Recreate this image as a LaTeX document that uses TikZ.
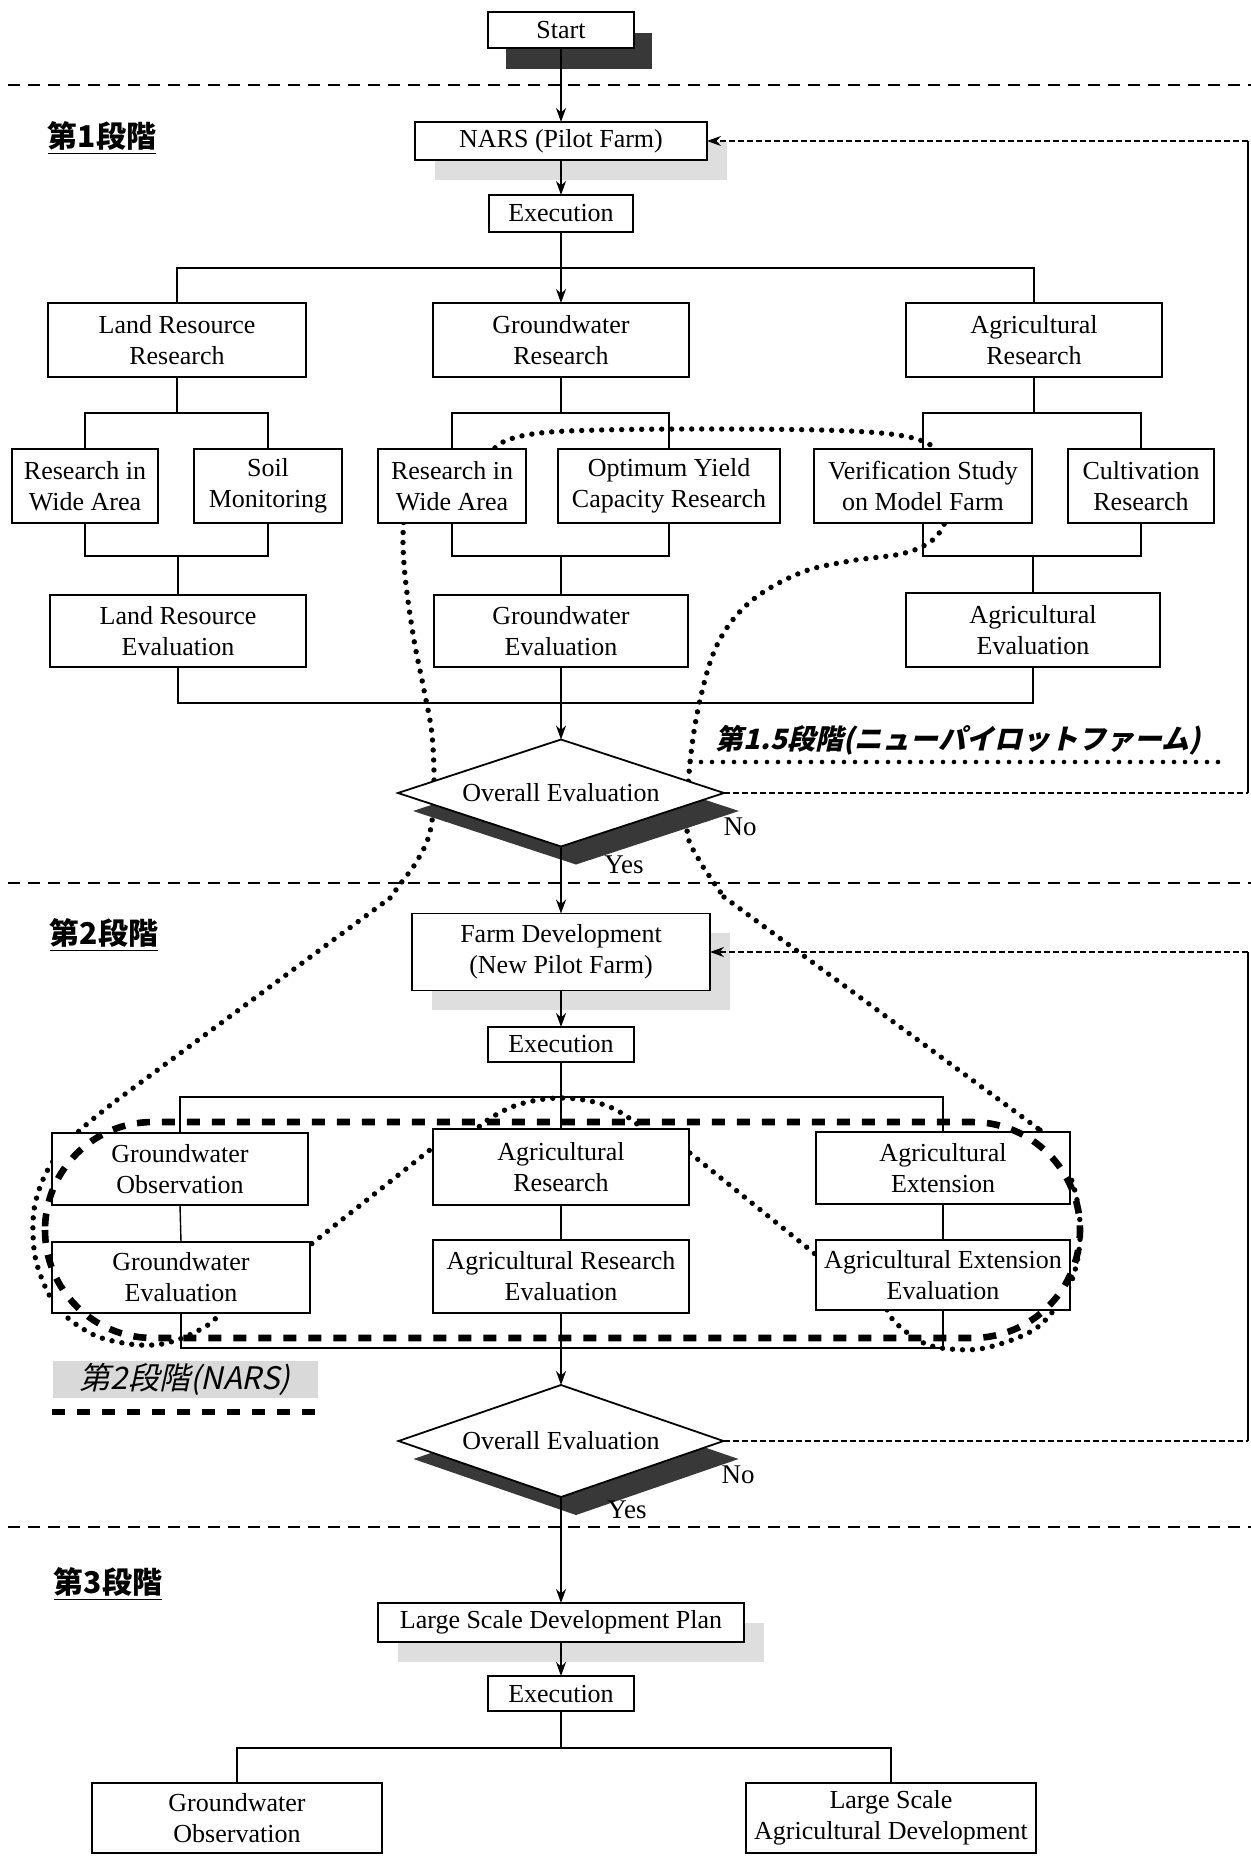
\documentclass[tikz,border=0pt]{standalone}
\usepackage{fontspec}
\setmainfont{Liberation Serif}
\newfontfamily\cjk{Noto Sans CJK JP}
\newfontfamily\cjkit{Noto Sans CJK JP}[FakeSlant=0.22]
\usetikzlibrary{shapes.geometric,arrows.meta}
\begin{document}
\begin{tikzpicture}[x=0.5pt,y=-0.5pt,
  box/.style={draw, line width=0.9pt, fill=white, inner sep=0pt, outer sep=0pt, align=center, font=\fontsize{13}{15.5}\selectfont},
  lshadow/.style={fill=black!13, draw=none, inner sep=0pt, outer sep=0pt},
  dshadow/.style={fill=black!78, draw=none, inner sep=0pt, outer sep=0pt},
  conn/.style={line width=0.7pt},
  arr/.style={line width=0.7pt, -{Stealth[length=7pt,width=5pt]}},
  stage/.style={line width=0.9pt, dash pattern=on 6pt off 4pt},
  dotloop/.style={line width=2.7pt, line cap=round, dash pattern=on 0pt off 5pt},
  dotul/.style={line width=2.3pt, line cap=round, dash pattern=on 0pt off 5.5pt},
  narsdash/.style={line width=3.3pt, dash pattern=on 6.5pt off 6pt},
  fb/.style={line width=0.6pt, dash pattern=on 3pt off 1.5pt},
  fbv/.style={line width=0.7pt},
  decision/.style={diamond, shape aspect=3, draw, line width=0.9pt, fill=white, inner sep=0pt, outer sep=0pt, font=\fontsize{13}{15.5}\selectfont},
  lbl/.style={inner sep=0pt, font=\fontsize{13.5}{16}\selectfont},
  stagelbl/.style={inner sep=0pt, font={\fontsize{15}{18}\selectfont\cjk\bfseries}},
]
\useasboundingbox (0,0) rectangle (1251,1856);
\fill[white] (0,0) rectangle (1251,1856);

% stage separators
\coordinate (s1l) at (8,85);   \coordinate (s1r) at (1251,85);
\coordinate (s2l) at (8,883);  \coordinate (s2r) at (1251,883);
\coordinate (s3l) at (8,1527); \coordinate (s3r) at (1251,1527);
\draw[stage] (s1l) -- (s1r);
\draw[stage] (s2l) -- (s2r);
\draw[stage] (s3l) -- (s3r);

% big dotted outline (stage 1.5)
\draw[dotloop] plot[smooth,tension=0.6] coordinates {(488,455) (505,441) (540,433) (600,430) (700,429) (820,430) (890,434) (925,442) (942,455)};
\draw[dotloop] plot[smooth,tension=0.6] coordinates {(948,515) (935,538) (905,553) (850,561) (800,573) (750,602) (718,643) (700,700) (690,763) (687,830) (698,858) (712,880) (724,897)};
\draw[dotloop] (724,897) -- (1040,1130);
\draw[dotloop] plot[smooth,tension=0.6] coordinates {(1040,1130) (1064,1162) (1077,1200) (1080,1240) (1072,1280) (1054,1310) (1030,1332) (985,1348) (950,1349) (926,1344) (905,1331) (890,1316) (884,1300)};
\draw[dotloop] (830,1266) -- (680,1145);
\draw[dotloop] plot[smooth,tension=0.6] coordinates {(648,1140) (637,1124) (605,1105) (561,1098) (517,1105) (482,1124) (472,1140)};
\draw[dotloop] (445,1138) -- (300,1253);
\draw[dotloop] plot[smooth,tension=0.6] coordinates {(226,1302) (217,1317) (203,1328) (177,1340) (153,1345) (123,1343) (90,1333) (57,1307) (38,1268) (33,1233) (36,1200) (50,1166) (77,1133) (117,1100)};
\draw[dotloop] (117,1100) -- (390,898);
\draw[dotloop] plot[smooth,tension=0.6] coordinates {(390,898) (401,883) (417,861) (430,832) (434,790) (432,735) (424,690) (414,640) (406,585) (403,545) (404,515)};

% shadows
\node[dshadow, minimum width=73pt, minimum height=18pt] (startS) at (579,51) {};
\node[lshadow, minimum width=146pt, minimum height=19pt] (narsS) at (581,161) {};
\node[lshadow, minimum width=149pt, minimum height=38.5pt] (farmS) at (581,971.5) {};
\node[lshadow, minimum width=183pt, minimum height=19.5pt] (lsdpS) at (581,1642) {};
\node[diamond, dshadow, shape aspect=3, minimum width=163pt, minimum height=53.5pt] (ov1S) at (576,811) {};
\node[diamond, dshadow, shape aspect=3, minimum width=162.5pt, minimum height=56pt] (ov2S) at (576,1459) {};

% boxes stage 1
\node[box, minimum width=73pt, minimum height=18pt] (start) at (561,30) {Start};
\node[box, minimum width=146pt, minimum height=19pt] (nars) at (561,141) {NARS (Pilot Farm)};
\node[box, minimum width=72pt, minimum height=18.5pt] (exec1) at (561,213.5) {Execution};
\node[box, minimum width=129pt, minimum height=37pt] (lrr) at (177,340) {Land Resource\\Research};
\node[box, minimum width=128pt, minimum height=37pt] (gwr) at (561,340) {Groundwater\\Research};
\node[box, minimum width=128pt, minimum height=37pt] (agr) at (1034,340) {Agricultural\\Research};
\node[box, minimum width=73pt, minimum height=37pt] (wide1) at (85,486) {Research in\\Wide Area};
\node[box, minimum width=74pt, minimum height=37pt] (soil) at (268,486) {Soil\\Monitoring};
\node[box, minimum width=74pt, minimum height=37pt] (wide2) at (452,486) {Research in\\Wide Area};
\node[box, minimum width=111pt, minimum height=37pt] (opt) at (669,486) {Optimum Yield\\Capacity Research};
\node[box, minimum width=109pt, minimum height=37pt] (verif) at (923,486) {Verification Study\\on Model Farm};
\node[box, minimum width=73pt, minimum height=37pt] (cult) at (1141,486) {Cultivation\\Research};
\node[box, minimum width=128pt, minimum height=36pt] (lre) at (178,631) {Land Resource\\Evaluation};
\node[box, minimum width=127pt, minimum height=36pt] (gwe) at (561,631) {Groundwater\\Evaluation};
\node[box, minimum width=127pt, minimum height=37pt] (age) at (1033,630) {Agricultural\\Evaluation};
\node[decision, minimum width=163pt, minimum height=53.5pt] (ov1) at (561,793) {Overall Evaluation};

% boxes stage 2
\node[box, minimum width=149pt, minimum height=38.5pt] (farm) at (561,952) {Farm Development\\(New Pilot Farm)};
\node[box, minimum width=73pt, minimum height=17.5pt] (exec2) at (561,1044.5) {Execution};
\node[box, minimum width=128pt, minimum height=36pt] (gwo) at (180,1169) {Groundwater\\Observation};
\node[box, minimum width=128pt, minimum height=38pt] (arr) at (561,1167) {Agricultural\\Research};
\node[box, minimum width=127pt, minimum height=36pt] (ext) at (943,1168) {Agricultural\\Extension};
\node[box, minimum width=129pt, minimum height=35.5pt] (gwe2) at (181,1277.5) {Groundwater\\Evaluation};
\node[box, minimum width=128pt, minimum height=36.5pt] (are) at (561,1276.5) {Agricultural Research\\Evaluation};
\node[box, minimum width=127pt, minimum height=35pt] (exe) at (943,1275) {Agricultural Extension\\Evaluation};
\node[decision, minimum width=162.5pt, minimum height=56pt] (ov2) at (561,1441) {Overall Evaluation};

% boxes stage 3
\node[box, minimum width=183pt, minimum height=19.5pt] (lsdp) at (561,1622.5) {Large Scale Development Plan};
\node[box, minimum width=73pt, minimum height=17.5pt] (exec3) at (561,1693.5) {Execution};
\node[box, minimum width=145pt, minimum height=35pt] (gwo3) at (237,1818) {Groundwater\\Observation};
\node[box, minimum width=145pt, minimum height=35pt] (lsad) at (891,1818) {Large Scale\\Agricultural Development};

% bracket coordinates
\coordinate (b1) at (561,268);
\coordinate (b2) at (561,413);
\coordinate (b3) at (561,556);
\coordinate (b4) at (561,703);
\coordinate (b5) at (561,1097);
\coordinate (b6) at (561,1348);
\coordinate (b7) at (561,1748);

% connectors stage 1
\draw[arr] (start.south) -- (nars.north);
\draw[arr] (nars.south) -- (exec1.north);
\draw[arr] (exec1.south) -- (gwr.north);
\draw[conn] (lrr.north) -- (lrr.north |- b1) -- (agr.north |- b1) -- (agr.north);
\draw[conn] (lrr.south) -- (lrr.south |- b2);
\draw[conn] (wide1.north) -- (wide1.north |- b2) -- (soil.north |- b2) -- (soil.north);
\draw[conn] (gwr.south) -- (gwr.south |- b2);
\draw[conn] (wide2.north) -- (wide2.north |- b2) -- (opt.north |- b2) -- (opt.north);
\draw[conn] (agr.south) -- (agr.south |- b2);
\draw[conn] (verif.north) -- (verif.north |- b2) -- (cult.north |- b2) -- (cult.north);
\draw[conn] (wide1.south) -- (wide1.south |- b3) -- (soil.south |- b3) -- (soil.south);
\draw[conn] (lre.north) -- (lre.north |- b3);
\draw[conn] (wide2.south) -- (wide2.south |- b3) -- (opt.south |- b3) -- (opt.south);
\draw[conn] (gwe.north) -- (gwe.north |- b3);
\draw[conn] (verif.south) -- (verif.south |- b3) -- (cult.south |- b3) -- (cult.south);
\draw[conn] (age.north) -- (age.north |- b3);
\draw[conn] (lre.south) -- (lre.south |- b4) -- (age.south |- b4) -- (age.south);
\draw[arr] (gwe.south) -- (ov1.north);
\draw[arr] (ov1.south) -- (farm.north);

% connectors stage 2
\draw[arr] (farm.south) -- (exec2.north);
\draw[conn] (exec2.south) -- (arr.north);
\draw[conn] (gwo.north) -- (gwo.north |- b5) -- (ext.north |- b5) -- (ext.north);
\draw[conn] (gwo.south) -- (gwe2.north);
\draw[conn] (arr.south) -- (are.north);
\draw[conn] (ext.south) -- (exe.north);
\draw[conn] (gwe2.south) -- (gwe2.south |- b6) -- (exe.south |- b6) -- (exe.south);
\draw[arr] (are.south) -- (ov2.north);
\draw[arr] (ov2.south) -- (lsdp.north);

% connectors stage 3
\draw[arr] (lsdp.south) -- (exec3.north);
\draw[conn] (exec3.south) -- (b7);
\draw[conn] (gwo3.north) -- (gwo3.north |- b7) -- (lsad.north |- b7) -- (lsad.north);

% feedback loops
\coordinate (f1a) at (1248,793);
\coordinate (f1b) at (1248,141);
\draw[fb] (ov1.east) -- (f1a);
\draw[fbv] (f1a) -- (f1b);
\draw[fb, -{Stealth[length=7pt,width=5pt]}] (f1b) -- (nars.east);
\coordinate (f2a) at (1248,1441);
\coordinate (f2b) at (1248,952);
\draw[fb] (ov2.east) -- (f2a);
\draw[fbv] (f2a) -- (f2b);
\draw[fb, -{Stealth[length=7pt,width=5pt]}] (f2b) -- (farm.east);

% stage 2 (NARS) outline
\draw[narsdash, rounded corners=54pt] (45,1122) rectangle (1080,1338);

% labels
\node[lbl] (no1) at (740,827) {No};
\node[lbl] (yes1) at (624,865) {Yes};
\node[lbl] (no2) at (738,1475) {No};
\node[lbl] (yes2) at (627,1510) {Yes};

\node[stagelbl] (st1) at (102,138) {\underline{第1段階}};
\node[stagelbl] (st2) at (104,935) {\underline{第2段階}};
\node[stagelbl] (st3) at (108,1584) {\underline{第3段階}};

\node[inner sep=0pt, font={\fontsize{14}{16}\selectfont\cjkit\bfseries}] (st15) at (958,740) {第1.5段階(ニューパイロットファーム)};
\coordinate (u1) at (690,762);
\coordinate (u2) at (1220,762);
\draw[dotul] (u1) -- (u2);

\node[inner sep=0pt, fill=black!15, minimum width=132.5pt, minimum height=18.5pt, font={\fontsize{15.5}{17}\selectfont\cjkit}] (st2n) at (185,1379) {第2段階(NARS)};
\coordinate (n1) at (52,1412);
\coordinate (n2) at (317,1412);
\draw[narsdash] (n1) -- (n2);
\end{tikzpicture}
\end{document}
